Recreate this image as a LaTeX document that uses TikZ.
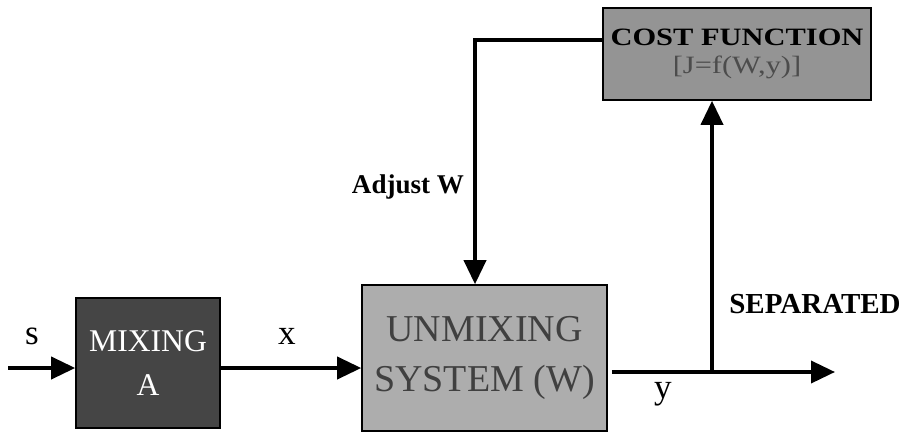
\documentclass[tikz,border=0pt]{standalone}
\usepackage{fontspec}
\setmainfont{Liberation Serif}
\newfontfamily\widefont[FakeStretch=1.22]{Liberation Serif}
\usetikzlibrary{arrows.meta}

\definecolor{mixgray}{gray}{0.27}
\definecolor{unmixgray}{gray}{0.68}
\definecolor{costgray}{gray}{0.58}

\tikzset{
  block/.style={draw=black, line width=0.9pt, inner sep=0pt, align=center},
  sig/.style={line width=2.1pt, -{Triangle[length=0.48cm,width=0.44cm]}},
  lbl/.style={font=\fontsize{20}{24}\selectfont, anchor=base},
}

\begin{document}
\begin{tikzpicture}
        \useasboundingbox (0,0) rectangle (18.1,8.62);
        % Blocks
        \node[block, fill=mixgray, text=white, minimum width=2.88cm, minimum height=2.6cm,
              font=\fontsize{18}{24.5}\selectfont] (mix) at (2.96,1.36) {MIXING\\A};
        \node[block, fill=unmixgray, text=black!75, minimum width=4.9cm, minimum height=2.92cm,
              font=\fontsize{21.6}{28}\selectfont] (unmix) at (9.69,1.46) {UNMIXING\\SYSTEM (W)};
        \node[block, fill=costgray, minimum width=5.36cm, minimum height=1.84cm,
              font=\widefont\fontsize{14.2}{15.5}\selectfont] (cost) at (14.74,7.54)
              {\textbf{COST FUNCTION}\\{\color{black!70}[J=f(W,y)]}};
        % Signal points
        \coordinate (sin) at (0.16,1.26);
        \coordinate (yout) at (16.7,1.18);
        \coordinate (ybr) at (14.24,1.18);
        \coordinate (fbk) at (9.5,7.82);
        % Forward path
        \draw[sig] (sin) -- (sin -| mix.west);
        \draw[sig] (mix.east |- sin) -- (unmix.west |- sin);
        \draw[sig] ([xshift=0.08cm]unmix.east |- yout) -- (yout); % separated output
        % Feedback loop
        \draw[sig] (ybr) -- (ybr |- cost.south);
        \draw[sig] (cost.west |- fbk) -- (fbk) -- (fbk |- unmix.north);
        % Labels
        \node[lbl] (slbl) at (0.64,1.74) {s};
        \node[lbl] (xlbl) at (5.74,1.74) {x};
        \node[lbl] (ylbl) at (13.26,0.66) {y};
        \node[font=\bfseries\fontsize{15.4}{18}\selectfont, anchor=base] (adj) at (8.16,4.76) {Adjust W};
        \node[font=\bfseries\fontsize{16.5}{20}\selectfont, anchor=base] (sep) at (16.3,2.36) {SEPARATED};
\end{tikzpicture}
\end{document}
